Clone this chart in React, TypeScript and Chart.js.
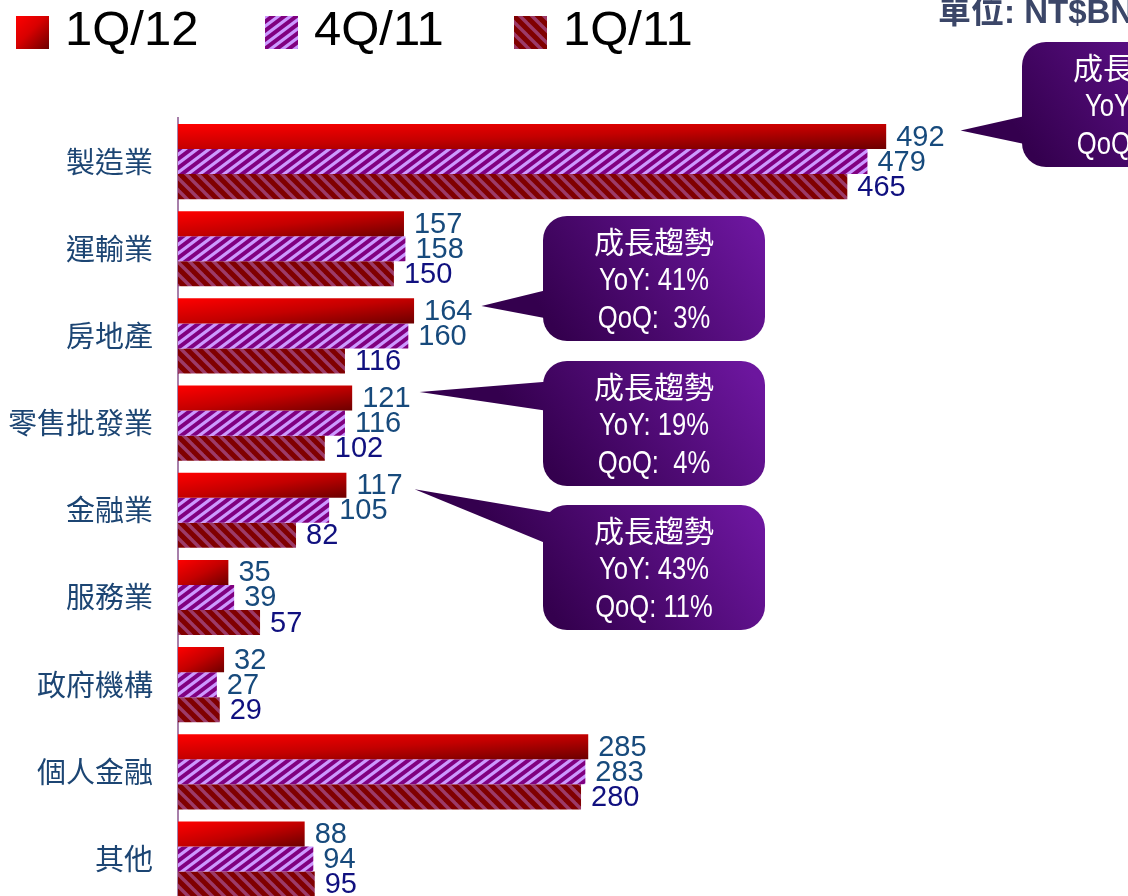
import React, { useEffect, useRef } from 'react';
import { Chart, registerables } from 'chart.js';

Chart.register(...registerables);

// ---------- data ----------
const categories = ['製造業', '運輸業', '房地產', '零售批發業', '金融業', '服務業', '政府機構', '個人金融', '其他'];
const seriesNames = ['1Q/12', '4Q/11', '1Q/11'];
const values1Q12 = [492, 157, 164, 121, 117, 35, 32, 285, 88];
const values4Q11 = [479, 158, 160, 116, 105, 39, 27, 283, 94];
const values1Q11 = [465, 150, 116, 102, 82, 57, 29, 280, 95];
const unitLabel = '單位: NT$BN';
const calloutTitle = '成長趨勢';
const calloutCategories = [0, 2, 3, 4];

// ---------- layout / style ----------
const W = 1128;
const H = 945;
const labelFont = '29px "Liberation Sans", Arial, sans-serif';
const labelColors = ['#174A7C', '#174A7C', '#10107F'];
const calloutLayout = [
  { bx: 1022, by: 42, baseTop: 72, baseBot: 104, tipDx: 16, tipDy: -6 },
  { bx: 543, by: 216, baseTop: 72, baseBot: 104, tipDx: 9, tipDy: -5 },
  { bx: 543, by: 361, baseTop: 20, baseBot: 51, tipDx: 9, tipDy: -6 },
  { bx: 543, by: 505, baseTop: 8, baseBot: 42, tipDx: 12, tipDy: 4 },
];
const legendPos = [16, 265, 514];

function makeStripe(bg: string, fg: string, w: number, h: number, lw: number, dir: '/' | '\\') {
  const c = document.createElement('canvas');
  c.width = w;
  c.height = h;
  const g = c.getContext('2d')!;
  g.fillStyle = bg;
  g.fillRect(0, 0, w, h);
  g.strokeStyle = fg;
  g.lineWidth = lw;
  [-1, 0, 1].forEach((k) => {
    const ox = k * w;
    g.beginPath();
    if (dir === '/') {
      g.moveTo(ox - w, 2 * h);
      g.lineTo(ox + 2 * w, -h);
    } else {
      g.moveTo(ox - w, -h);
      g.lineTo(ox + 2 * w, 2 * h);
    }
    g.stroke();
  });
  return g.createPattern(c, 'repeat')!;
}

function redGradient(ctx: CanvasRenderingContext2D, x0: number, y0: number, L: number, Ht: number) {
  const a = 0.5 / Math.max(L, 1);
  const b = 0.5 / Math.max(Ht, 1);
  const s = 1 / (a * a + b * b);
  const g = ctx.createLinearGradient(x0, y0, x0 + a * s, y0 + b * s);
  g.addColorStop(0, '#FF0000');
  g.addColorStop(0.5, '#C40000');
  g.addColorStop(1, '#6C0000');
  return g;
}

function pct(a: number, b: number) {
  return Math.round((a / b - 1) * 100 + 1e-9);
}

export default function App() {
  const ref = useRef<HTMLCanvasElement>(null);

  useEffect(() => {
    const canvas = ref.current!;
    const purplePat = makeStripe('#800080', '#CC99FF', 12, 9, 3.2, '/');
    const maroonPat = makeStripe('#800000', '#9C3A68', 12, 12, 3.4, '\\');
    const fills: any[] = [null, purplePat, maroonPat];

    const gradPlugin = {
      id: 'barGrad',
      beforeDatasetsDraw(chart: any) {
        const ctx = chart.ctx;
        chart.getDatasetMeta(0).data.forEach((el: any) => {
          const p = el.getProps(['x', 'y', 'base', 'height'], true);
          el.options.backgroundColor = redGradient(ctx, p.base, p.y - p.height / 2, p.x - p.base, p.height);
        });
      },
    };

    const labelPlugin = {
      id: 'valueLabels',
      afterDatasetsDraw(chart: any) {
        const ctx = chart.ctx;
        ctx.save();
        ctx.font = labelFont;
        ctx.textBaseline = 'middle';
        ctx.textAlign = 'left';
        chart.data.datasets.forEach((ds: any, i: number) => {
          ctx.fillStyle = labelColors[i];
          chart.getDatasetMeta(i).data.forEach((el: any, j: number) => {
            const p = el.getProps(['x', 'y'], true);
            ctx.fillText(String(ds.data[j]), p.x + 10, p.y + 1);
          });
        });
        ctx.restore();
      },
    };

    const overlayPlugin = {
      id: 'overlay',
      afterDraw(chart: any) {
        const ctx: CanvasRenderingContext2D = chart.ctx;
        ctx.save();
        // legend
        seriesNames.forEach((name, i) => {
          const x = legendPos[i];
          const y = 16;
          const s = 33;
          if (i === 0) {
            const g = ctx.createLinearGradient(x, y, x + s, y + s);
            g.addColorStop(0, '#FF0000');
            g.addColorStop(0.45, '#D80000');
            g.addColorStop(1, '#6C0000');
            ctx.fillStyle = g;
          } else {
            ctx.fillStyle = fills[i];
          }
          ctx.fillRect(x, y, s, s);
          ctx.fillStyle = '#000000';
          ctx.font = '49px "Liberation Sans", Arial, sans-serif';
          ctx.textBaseline = 'alphabetic';
          ctx.textAlign = 'left';
          ctx.fillText(name, x + 49, 45);
        });
        // unit label
        ctx.fillStyle = '#3B4668';
        ctx.font = 'bold 33px "Liberation Sans", "Noto Sans CJK TC", sans-serif';
        ctx.fillText(unitLabel, 938, 23);

        // callouts
        const meta0 = chart.getDatasetMeta(0);
        calloutCategories.forEach((cat, k) => {
          const L = calloutLayout[k];
          const el = meta0.data[cat];
          const p = el.getProps(['x', 'y'], true);
          ctx.font = labelFont;
          const tw = ctx.measureText(String(values1Q12[cat])).width;
          const tipX = p.x + 10 + tw + L.tipDx;
          const tipY = p.y + L.tipDy;
          const bw = 222;
          const bh = 125;
          const r = 24;
          const { bx, by } = L;
          const g = ctx.createLinearGradient(bx + 20, by + bh, bx + bw - 20, by);
          g.addColorStop(0, '#34004E');
          g.addColorStop(1, '#6C169E');
          ctx.fillStyle = g;
          ctx.beginPath();
          ctx.moveTo(bx + r, by);
          ctx.lineTo(bx + bw - r, by);
          ctx.arcTo(bx + bw, by, bx + bw, by + r, r);
          ctx.lineTo(bx + bw, by + bh - r);
          ctx.arcTo(bx + bw, by + bh, bx + bw - r, by + bh, r);
          ctx.lineTo(bx + r, by + bh);
          ctx.arcTo(bx, by + bh, bx, by + bh - r, r);
          ctx.lineTo(bx, by + r);
          ctx.arcTo(bx, by, bx + r, by, r);
          ctx.closePath();
          ctx.fill();
          ctx.beginPath();
          ctx.moveTo(bx + 12, by + L.baseTop);
          ctx.lineTo(tipX, tipY);
          ctx.lineTo(bx + 12, by + L.baseBot);
          ctx.closePath();
          ctx.fill();

          const yoy = pct(values1Q12[cat], values1Q11[cat]);
          const qoq = pct(values1Q12[cat], values4Q11[cat]);
          const pad = (n: number) => (Math.abs(n) < 10 ? '  ' : ' ') + n + '%';
          const cx = bx + bw / 2;
          ctx.fillStyle = '#FFFFFF';
          ctx.textAlign = 'center';
          ctx.textBaseline = 'middle';
          ctx.font = '30px "Noto Sans CJK TC", sans-serif';
          ctx.fillText(calloutTitle, cx, by + 26);
          ctx.font = '32px "Liberation Sans", Arial, sans-serif';
          const lines = ['YoY: ' + yoy + '%', 'QoQ:' + pad(qoq)];
          lines.forEach((t, li) => {
            ctx.save();
            ctx.translate(cx, by + 65 + li * 38);
            ctx.scale(0.8, 1);
            ctx.fillText(t, 0, 0);
            ctx.restore();
          });
        });
        ctx.restore();
      },
    };

    const chart = new Chart(canvas, {
      type: 'bar',
      data: {
        labels: categories,
        datasets: [
          { label: seriesNames[0], data: values1Q12, backgroundColor: () => '#D00000' },
          { label: seriesNames[1], data: values4Q11, backgroundColor: purplePat },
          { label: seriesNames[2], data: values1Q11, backgroundColor: maroonPat },
        ].map((d) => ({ ...d, borderWidth: 0, barPercentage: 1, categoryPercentage: 0.862 })),
      },
      options: {
        indexAxis: 'y',
        animation: false,
        responsive: true,
        maintainAspectRatio: false,
        devicePixelRatio: 1,
        layout: { padding: { top: 118, bottom: 0, left: 0, right: 0 } },
        plugins: { legend: { display: false }, tooltip: { enabled: false }, title: { display: false } },
        scales: {
          x: { display: false, min: 0, max: 660 },
          y: {
            grid: { display: false, drawTicks: false },
            border: { display: true, color: '#A77FAA', width: 2 },
            ticks: {
              padding: 25,
              color: '#1C4573',
              font: { size: 29, family: '"Noto Sans CJK TC", sans-serif' },
            },
            afterFit: (scale: any) => {
              scale.width = 178;
            },
          },
        },
      } as any,
      plugins: [gradPlugin, labelPlugin, overlayPlugin],
    });
    return () => chart.destroy();
  }, []);

  return (
    <div style={{ position: 'fixed', left: 0, top: 0, width: W, height: 896, overflow: 'hidden', background: '#fff' }}>
      <div style={{ position: 'relative', width: W, height: H }}>
        <canvas ref={ref} />
      </div>
    </div>
  );
}
